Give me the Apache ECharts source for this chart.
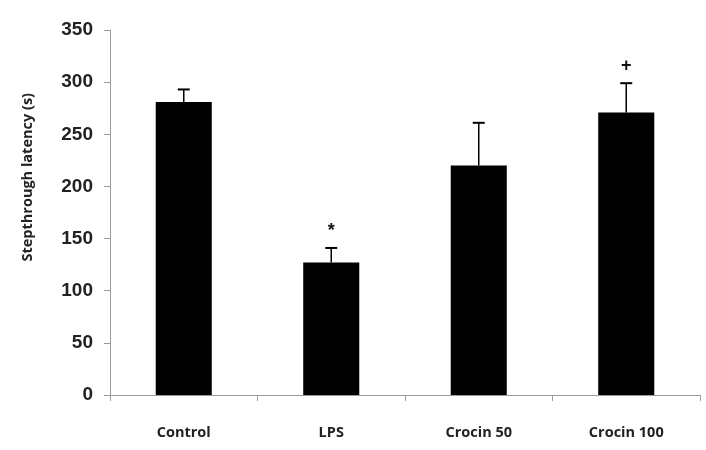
<!DOCTYPE html>
<html>
<head>
<meta charset="utf-8">
<script src="https://cdn.jsdelivr.net/npm/echarts@6/dist/echarts.min.js"></script>
<style>html,body{margin:0;padding:0;background:#fff;}#chart{width:706px;height:450px;}</style>
</head>
<body>
<div id="chart"></div>
<script>
const categories = ['Control', 'LPS', 'Crocin 50', 'Crocin 100'];
const means = [281, 127, 220, 271];
const errUpper = [293, 141, 261, 299];
const marks = ['', '*', '', '+'];
const yTicks = [0, 50, 100, 150, 200, 250, 300, 350];

const chart = echarts.init(document.getElementById('chart'));
const axisColor = '#9a9a9a';
chart.setOption({
  animation: false,
  backgroundColor: '#fff',
  grid: { left: 110, right: 6, top: 30, bottom: 55 },
  xAxis: {
    type: 'category',
    data: categories,
    axisLine: { lineStyle: { color: axisColor, width: 1 } },
    axisTick: { show: true, length: 6, lineStyle: { color: axisColor } },
    axisLabel: { color: '#222', fontFamily: 'Open Sans', fontWeight: 'bold', fontSize: 14.5, margin: 30 }
  },
  yAxis: {
    type: 'value',
    min: yTicks[0],
    max: yTicks[yTicks.length - 1],
    interval: 50,
    splitLine: { show: false },
    axisLine: { show: true, lineStyle: { color: axisColor, width: 1 } },
    axisTick: { show: true, length: 6, lineStyle: { color: axisColor } },
    axisLabel: { color: '#222', fontFamily: 'Liberation Sans', fontWeight: 'bold', fontSize: 19, margin: 17 }
  },
  graphic: [{
    type: 'text',
    left: 20,
    top: 93,
    style: {
      text: 'Stepthrough latency (s)',
      fill: '#222',
      font: 'bold 14.5px "Open Sans"'
    },
    rotation: Math.PI / 2,
    originX: 0,
    originY: 0
  }],
  series: [
    {
      type: 'bar',
      data: means,
      barWidth: '38%',
      itemStyle: { color: '#000' }
    },
    {
      type: 'custom',
      data: categories.map((c, i) => [i, means[i], errUpper[i], marks[i]]),
      renderItem: function (params, api) {
        const x = api.value(0);
        const base = api.coord([x, api.value(1)]);
        const top = api.coord([x, api.value(2)]);
        const half = 6;
        const children = [
          { type: 'line', shape: { x1: base[0], y1: base[1], x2: top[0], y2: top[1] }, style: { stroke: '#000', lineWidth: 1.5 } },
          { type: 'line', shape: { x1: top[0] - half, y1: top[1], x2: top[0] + half, y2: top[1] }, style: { stroke: '#000', lineWidth: 2 } }
        ];
        const m = marks[params.dataIndex];
        if (m) {
          children.push({ type: 'text', style: { text: m, x: top[0], y: top[1] - 17, align: 'center', verticalAlign: 'middle', fill: '#111', font: 'bold 18px "Liberation Sans"' } });
        }
        return { type: 'group', children: children };
      },
      z: 3
    }
  ]
});
</script>
</body>
</html>
